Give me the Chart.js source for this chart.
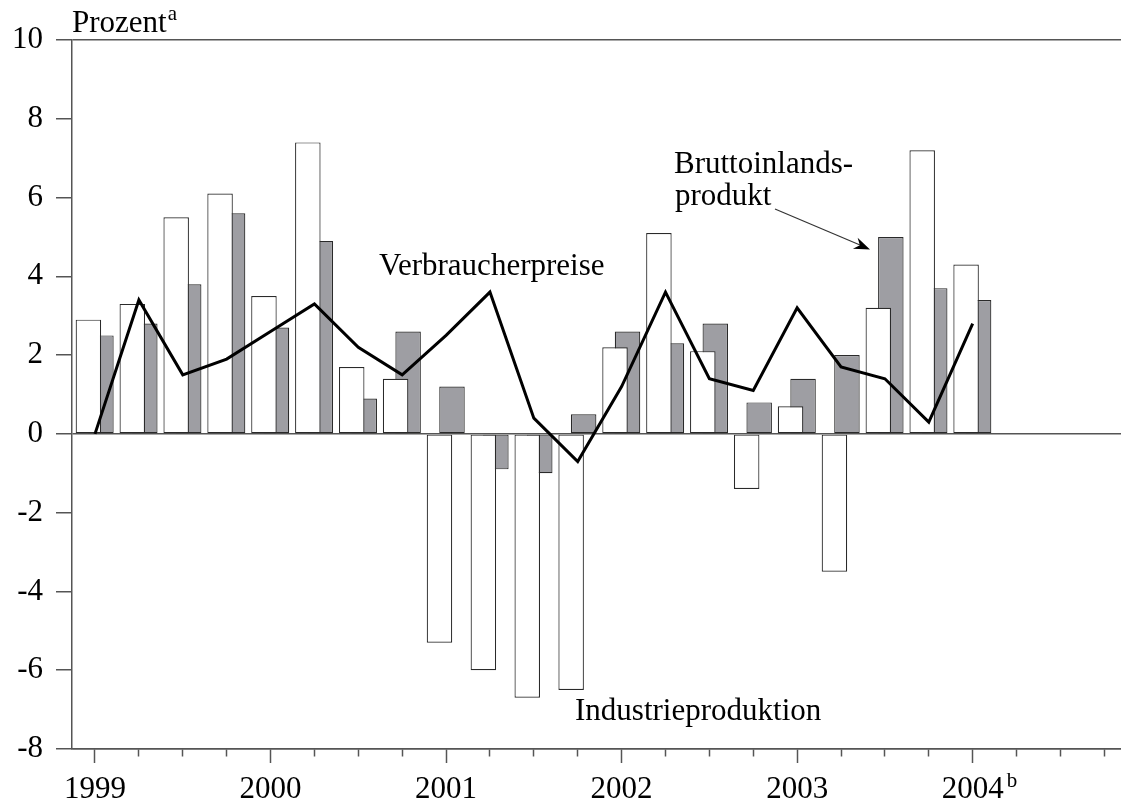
<!DOCTYPE html>
<html>
<head>
<meta charset="utf-8">
<script src="https://cdn.jsdelivr.net/npm/chart.js@4/dist/chart.umd.min.js"></script>
<style>
  html, body { margin: 0; padding: 0; background: #fff; }
  #wrap { width: 1121px; height: 802px; }
</style>
</head>
<body>
<div id="wrap"><canvas id="c" width="1121" height="802"></canvas></div>
<script>
// ---------- data ----------
const quarters = ['1999 Q1','1999 Q2','1999 Q3','1999 Q4','2000 Q1','2000 Q2','2000 Q3','2000 Q4',
  '2001 Q1','2001 Q2','2001 Q3','2001 Q4','2002 Q1','2002 Q2','2002 Q3','2002 Q4',
  '2003 Q1','2003 Q2','2003 Q3','2003 Q4','2004 Q1'];
const industrieproduktion = [2.9, 3.3, 5.5, 6.1, 3.5, 7.4, 1.7, 1.4, -5.3, -6.0, -6.7, -6.5,
  2.2, 5.1, 2.1, -1.4, 0.7, -3.5, 3.2, 7.2, 4.3];
const bruttoinlandsprodukt = [2.5, 2.8, 3.8, 5.6, 2.7, 4.9, 0.9, 2.6, 1.2, -0.9, -1.0, 0.5,
  2.6, 2.3, 2.8, 0.8, 1.4, 2.0, 5.0, 3.7, 3.4];
const verbraucherpreise = [0, 3.4, 1.5, 1.9, 2.6, 3.3, 2.2, 1.5, 2.5, 3.6, 0.4, -0.7,
  1.2, 3.6, 1.4, 1.1, 3.2, 1.7, 1.4, 0.3, 2.8];
const yearLabels = ['1999', '2000', '2001', '2002', '2003', '2004'];
const yTickValues = [-8, -6, -4, -2, 0, 2, 4, 6, 8, 10];
const quarterTicks = Array.from({length: 24}, (_, i) => i); // 1999 Q1 .. 2004 Q4

// ---------- styling constants ----------
const FONT = '"Liberation Serif", "Times New Roman", serif';
const AXIS = '#555';
const WHITE_OFFSET = -0.15;  // white bar shifted left of the quarter tick
const GRAY_OFFSET = 0.135;   // gray bar shifted right of the quarter tick

Chart.defaults.font.family = FONT;
Chart.defaults.color = '#000';

const whiteData = industrieproduktion.map((v, i) => ({x: i + WHITE_OFFSET, y: v}));
const grayData = bruttoinlandsprodukt.map((v, i) => ({x: i + GRAY_OFFSET, y: v}));
const lineData = verbraucherpreise.map((v, i) => ({x: i, y: v}));

const annotations = {
  id: 'annotations',
  afterDraw(chart) {
    const ctx = chart.ctx;
    const xs = chart.scales.x;
    ctx.save();
    ctx.fillStyle = '#000';
    ctx.textBaseline = 'alphabetic';
    ctx.textAlign = 'left';

    ctx.font = '31px ' + FONT;
    ctx.fillText('Prozent', 72, 32);
    const wP = ctx.measureText('Prozent').width;
    ctx.font = '21px ' + FONT;
    ctx.fillText('a', 72 + wP + 1, 20);

    // superscript b after 2004 label
    ctx.font = '31px ' + FONT;
    const w04 = ctx.measureText(yearLabels[5]).width;
    const p04 = xs.getPixelForValue(20);
    ctx.font = '21px ' + FONT;
    ctx.fillText('b', p04 + w04 / 2 + 3, 787);

    ctx.font = '31px ' + FONT;
    ctx.fillText('Verbraucherpreise', 379, 275);
    ctx.fillText('Bruttoinlands-', 674, 173);
    ctx.fillText('produkt', 675, 205);
    ctx.fillText('Industrieproduktion', 575, 720);

    // arrow
    ctx.strokeStyle = '#333';
    ctx.lineWidth = 1.2;
    ctx.beginPath();
    ctx.moveTo(775, 209);
    ctx.lineTo(860, 245);
    ctx.stroke();
    const tipX = 870, tipY = 249.5;
    const ang = Math.atan2(249.5 - 209, 870 - 775);
    ctx.fillStyle = '#000';
    ctx.beginPath();
    ctx.moveTo(tipX, tipY);
    ctx.lineTo(tipX - 16 * Math.cos(ang) + 6 * Math.sin(ang), tipY - 16 * Math.sin(ang) - 6 * Math.cos(ang));
    ctx.lineTo(tipX - 11 * Math.cos(ang), tipY - 11 * Math.sin(ang));
    ctx.lineTo(tipX - 16 * Math.cos(ang) - 6 * Math.sin(ang), tipY - 16 * Math.sin(ang) + 6 * Math.cos(ang));
    ctx.closePath();
    ctx.fill();
    ctx.restore();
  }
};

new Chart(document.getElementById('c'), {
  data: {
    datasets: [
      {
        type: 'line',
        label: 'Verbraucherpreise',
        data: lineData,
        borderColor: '#000',
        borderWidth: 3,
        pointRadius: 0,
        tension: 0,
        order: 0,
        borderJoinStyle: 'miter'
      },
      {
        type: 'bar',
        label: 'Industrieproduktion',
        data: whiteData,
        backgroundColor: '#ffffff',
        borderColor: '#2a2a2a',
        borderWidth: 1.2,
        borderSkipped: false,
        grouped: false,
        maxBarThickness: 25.5,
        barPercentage: 10,
        categoryPercentage: 1,
        order: 1
      },
      {
        type: 'bar',
        label: 'Bruttoinlandsprodukt',
        data: grayData,
        backgroundColor: '#9e9ea3',
        borderColor: '#2a2a2a',
        borderWidth: 1.2,
        borderSkipped: false,
        grouped: false,
        maxBarThickness: 25.5,
        barPercentage: 10,
        categoryPercentage: 1,
        order: 2
      }
    ]
  },
  options: {
    responsive: false,
    animation: false,
    devicePixelRatio: 1,
    layout: { padding: { top: 40, left: 0, right: 0, bottom: 0 }, autoPadding: false },
    plugins: { legend: { display: false }, tooltip: { enabled: false } },
    scales: {
      x: {
        type: 'linear',
        offset: false,
        min: -0.524,
        max: 23.38,
        afterBuildTicks: s => { s.ticks = quarterTicks.map(v => ({value: v})); },
        afterFit: s => { s.height = 53; },
        border: { display: true, color: AXIS, width: 1.5 },
        grid: {
          display: true,
          offset: false,
          drawOnChartArea: false,
          drawTicks: true,
          tickLength: 14,
          tickWidth: 1.5,
          tickColor: AXIS,
          tickBorderDash: c => (c.tick && c.tick.value % 4 === 0) ? [] : [7, 50]
        },
        ticks: {
          autoSkip: false,
          maxRotation: 0,
          padding: 8,
          font: { size: 31, family: FONT },
          color: '#000',
          callback: v => (v % 4 === 0 ? yearLabels[v / 4] : '')
        }
      },
      y: {
        type: 'linear',
        min: -8,
        max: 10,
        afterBuildTicks: s => { s.ticks = yTickValues.map(v => ({value: v})); },
        afterFit: s => { s.width = 72; },
        border: { display: true, color: AXIS, width: 1.5 },
        grid: {
          display: true,
          drawOnChartArea: true,
          drawTicks: true,
          tickLength: 16,
          lineWidth: 1.5,
          tickWidth: 1.5,
          tickColor: AXIS,
          color: c => ([10, 0, -8].includes(c.tick && c.tick.value) ? AXIS : 'rgba(0,0,0,0)')
        },
        ticks: {
          padding: 13,
          font: { size: 31, family: FONT },
          color: '#000',
          callback: v => String(v)
        }
      }
    }
  },
  plugins: [annotations]
});
</script>
</body>
</html>
